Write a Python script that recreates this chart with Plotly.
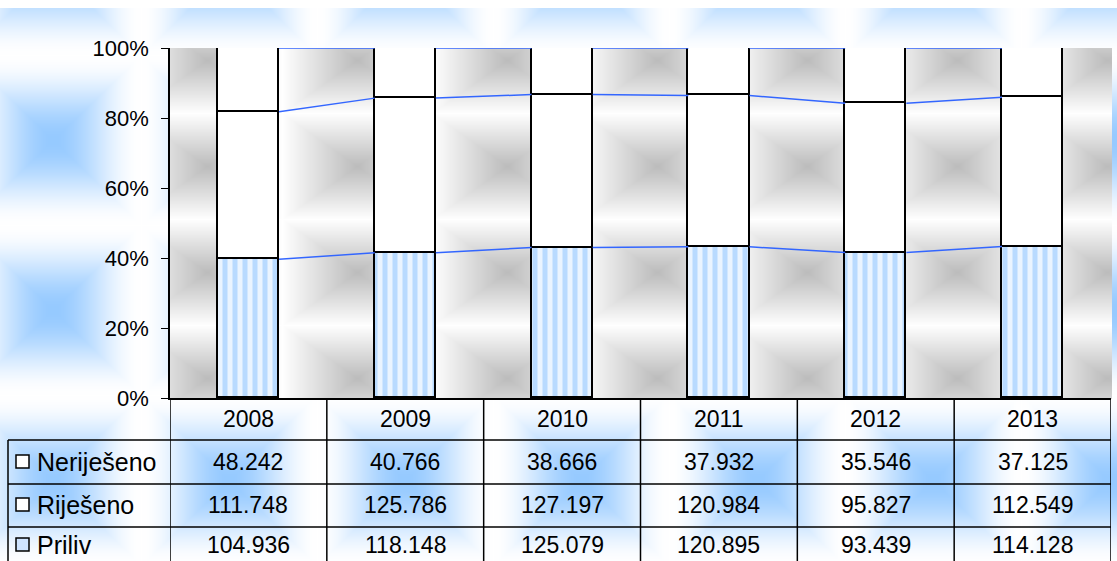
import base64, struct, zlib
import numpy as np
import plotly.graph_objects as go

# ---------------- data ----------------
years = ["2008", "2009", "2010", "2011", "2012", "2013"]
nerijeseno = [48.242, 40.766, 38.666, 37.932, 35.546, 37.125]
rijeseno = [111.748, 125.786, 127.197, 120.984, 95.827, 112.549]
priliv = [104.936, 118.148, 125.079, 120.895, 93.439, 114.128]
row_names = ["Neriješeno", "Riješeno", "Priliv"]
tick_vals = [0, 0.2, 0.4, 0.6, 0.8, 1.0]

# ---------------- derived shares ----------------
tot = np.array(nerijeseno) + np.array(rijeseno) + np.array(priliv)
p_pri = np.array(priliv) / tot
p_rij = np.array(rijeseno) / tot
p_ner = np.array(nerijeseno) / tot

# ---------------- geometry (pixels) ----------------
W, H = 1117, 561
PL, PR, PT, PB = 170, 1111, 48, 398


def xp(px):
    return (px - PL) / (PR - PL)


def yp(py):
    return (PB - py) / (PB - PT)


# ---------------- background texture ----------------
yy, xx = np.mgrid[0:H, 0:W].astype(float)


def tile(cx, cy, px, py):
    u = ((xx - cx) / px + 0.5) % 1 - 0.5
    v = ((yy - cy) / py + 0.5) % 1 - 0.5
    d = np.maximum(np.abs(u), np.abs(v)) * 2
    return np.clip(1 - d, 0, 1)


tb = tile(53, 140, 176, 170)
tb = tb * tb * (3 - 2 * tb)
blue = np.array([150, 202, 255.0])
white = np.array([255, 255, 255.0])
img = white - (white - blue) * tb[..., None]
tg = tile(207, 60, 150, 106)
gray = np.array([188, 188, 188.0])
gimg = white - (white - gray) * tg[..., None]
mask = (xx >= PL) & (xx <= PR) & (yy >= PT) & (yy <= PB)
img[mask] = gimg[mask]
img[:8, :, :] = 255
img = np.clip(img, 0, 255).astype(np.uint8)


def png_uri(arr):
    h, w, _ = arr.shape
    raw = b"".join(b"\x00" + arr[r].tobytes() for r in range(h))

    def chunk(t, d):
        return struct.pack(">I", len(d)) + t + d + struct.pack(">I", zlib.crc32(t + d) & 0xFFFFFFFF)

    png = (b"\x89PNG\r\n\x1a\n" + chunk(b"IHDR", struct.pack(">IIBBBBB", w, h, 8, 2, 0, 0, 0))
           + chunk(b"IDAT", zlib.compress(raw, 9)) + chunk(b"IEND", b""))
    return "data:image/png;base64," + base64.b64encode(png).decode()


# ---------------- figure ----------------
FONT = "Liberation Sans, Arial, sans-serif"
xs = list(range(len(years)))
BW = 0.39
fig = go.Figure()

fig.add_bar(x=xs, y=p_pri, width=BW, name=row_names[2],
            marker=dict(color="white", line=dict(color="black", width=1.8),
                        pattern=dict(shape="|", fgcolor="#86bfff", bgcolor="#eaf4ff",
                                     size=10, solidity=0.5)))
fig.add_bar(x=xs, y=p_rij, width=BW, name=row_names[1],
            marker=dict(color="white", line=dict(color="black", width=1.8)))
fig.add_bar(x=xs, y=p_ner, width=BW, name=row_names[0],
            marker=dict(color="white", line=dict(color="black", width=1.8)))

# series lines between bars
levels = [p_pri, p_pri + p_rij, p_pri + p_rij + p_ner]
for lv in levels:
    lx, ly = [], []
    for i in range(len(years) - 1):
        lx += [i + BW / 2, i + 1 - BW / 2, None]
        ly += [lv[i], lv[i + 1], None]
    fig.add_scatter(x=lx, y=ly, mode="lines", line=dict(color="#3366ff", width=1.5),
                    hoverinfo="skip", showlegend=False)

shapes = []
line = dict(color="black", width=1.5)
for k in range(len(years) + 1):
    shapes.append(dict(type="line", xref="x", yref="paper", x0=k - 0.5, x1=k - 0.5,
                       y0=yp(398), y1=yp(580), line=line))
shapes.append(dict(type="line", xref="paper", yref="paper", x0=xp(8), x1=xp(8),
                   y0=yp(440), y1=yp(580), line=line))
for py in [440, 484, 527]:
    shapes.append(dict(type="line", xref="paper", yref="paper", x0=xp(8), x1=xp(1111),
                       y0=yp(py), y1=yp(py), line=line))

row_centers = [462, 505, 545]
row_vals = [nerijeseno, rijeseno, priliv]
ann = []
for i, yv in enumerate(years):
    ann.append(dict(x=i, y=yp(419), xref="x", yref="paper", text=yv, showarrow=False,
                    font=dict(family=FONT, size=23, color="black"), yanchor="middle"))
for r, (name, vals, cy) in enumerate(zip(row_names, row_vals, row_centers)):
    for i, v in enumerate(vals):
        ann.append(dict(x=i, y=yp(cy), xref="x", yref="paper", text=f"{v:.3f}",
                        showarrow=False, font=dict(family=FONT, size=23, color="black"),
                        yanchor="middle"))
    ann.append(dict(x=xp(35), y=yp(cy), xref="paper", yref="paper", text=name,
                    showarrow=False, xanchor="left", yanchor="middle",
                    font=dict(family=FONT, size=25, color="black")))
    fill = "#cfe4ff" if name == "Priliv" else "white"
    shapes.append(dict(type="rect", xref="paper", yref="paper", x0=xp(16), x1=xp(29),
                       y0=yp(cy + 6), y1=yp(cy - 7), fillcolor=fill,
                       line=dict(color="black", width=1.5)))

fig.update_layout(
    width=W, height=H,
    margin=dict(l=PL, r=W - PR, t=PT, b=H - PB),
    barmode="stack", bargap=0,
    showlegend=False,
    paper_bgcolor="white", plot_bgcolor="rgba(0,0,0,0)",
    images=[dict(source=png_uri(img), xref="paper", yref="paper",
                 x=xp(0), y=yp(0), sizex=xp(W) - xp(0), sizey=yp(0) - yp(H),
                 xanchor="left", yanchor="top", sizing="stretch", layer="below")],
    shapes=shapes, annotations=ann,
    xaxis=dict(range=[-0.5, 5.5], showticklabels=False, ticks="", showgrid=False,
               zeroline=False, showline=True, linecolor="black", linewidth=1.5),
    yaxis=dict(range=[0, 1], tickvals=tick_vals, tickformat=".0%", ticks="outside",
               ticklen=7, tickwidth=1.2, tickcolor="black", showgrid=False,
               zeroline=False, showline=True, linecolor="black", linewidth=1.5,
               ticklabelstandoff=8,
               tickfont=dict(family=FONT, size=22, color="black")),
)

fig.write_html("out.html", config={"displayModeBar": False},
               post_script="document.body.style.margin='0px';")
